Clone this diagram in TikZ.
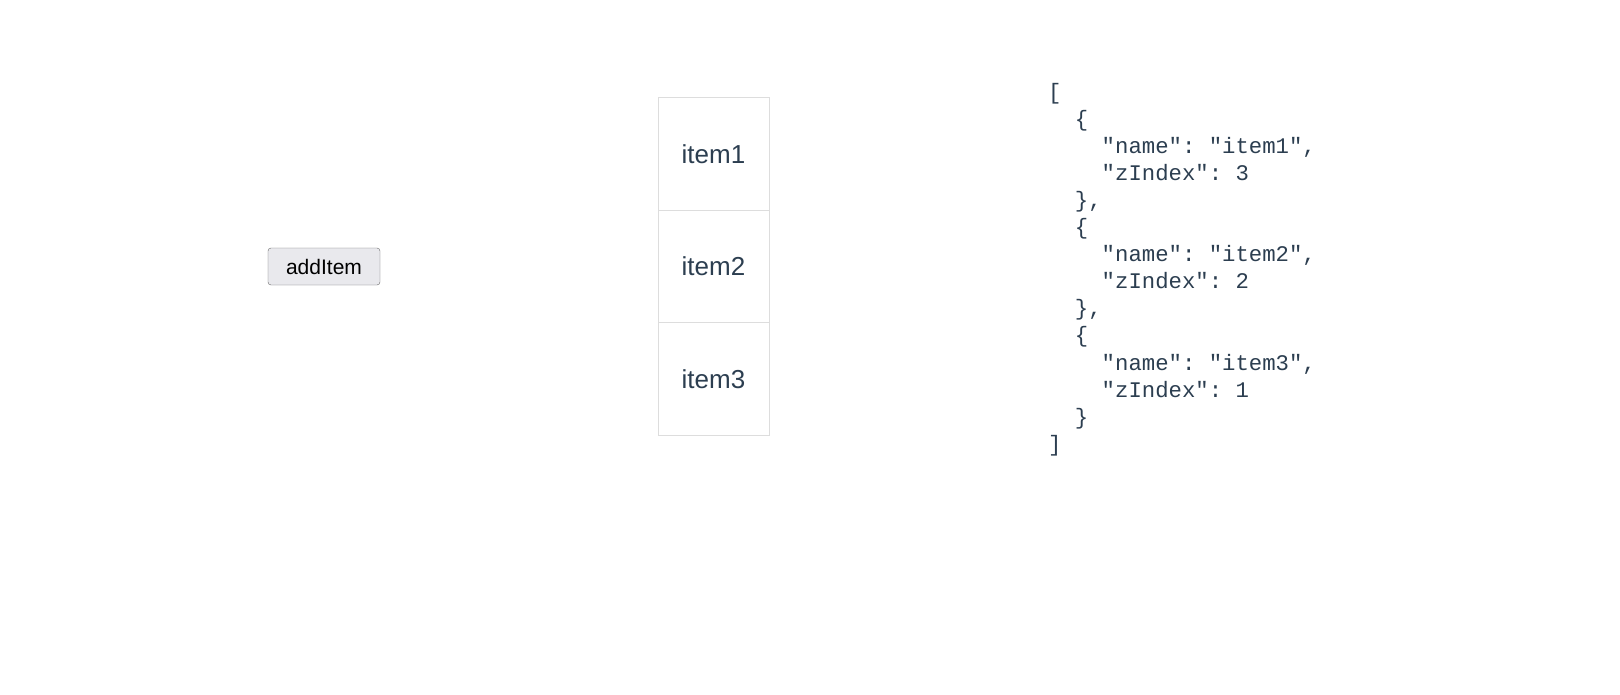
\documentclass[tikz,border=0pt]{standalone}
\usepackage{fontspec}
\setmainfont{Liberation Sans}
\setmonofont{Liberation Mono}
\definecolor{txt}{HTML}{2C3E50}
\definecolor{bord}{HTML}{DDDDDD}
\definecolor{btn}{HTML}{E9E9ED}
\begin{document}
\begin{tikzpicture}[x=1pt,y=-1pt,
  itembox/.style={draw=bord,line width=1pt,minimum width=111pt,minimum height=112.5pt,inner sep=0pt,text=txt,font=\fontsize{26}{30}\selectfont},
  jsonline/.style={anchor=base west,inner sep=0pt,text=txt,font=\ttfamily\fontsize{22.3}{26}\selectfont}]
\useasboundingbox (0,0) rectangle (1620,694);
\node[draw=gray!80!black,fill=btn,rounded corners=3pt,minimum width=112pt,minimum height=37pt,inner sep=0pt,font=\fontsize{21}{24}\selectfont] (btn) at (324,266.5) {addItem};
\node[itembox] (i1) at (713.5,154) {item1};
\node[itembox] (i2) at (713.5,266.5) {item2};
\node[itembox] (i3) at (713.5,379) {item3};
\foreach \t [count=\k from 0] in {{[},{\ \ \{},{\ \ \ \ "name": "item1",},{\ \ \ \ "zIndex": 3},{\ \ \},},{\ \ \{},{\ \ \ \ "name": "item2",},{\ \ \ \ "zIndex": 2},{\ \ \},},{\ \ \{},{\ \ \ \ "name": "item3",},{\ \ \ \ "zIndex": 1},{\ \ \}},{]}}
  \node[jsonline] (j\k) at (1048,{99+27.1*\k}) {\t};
\end{tikzpicture}
\end{document}
